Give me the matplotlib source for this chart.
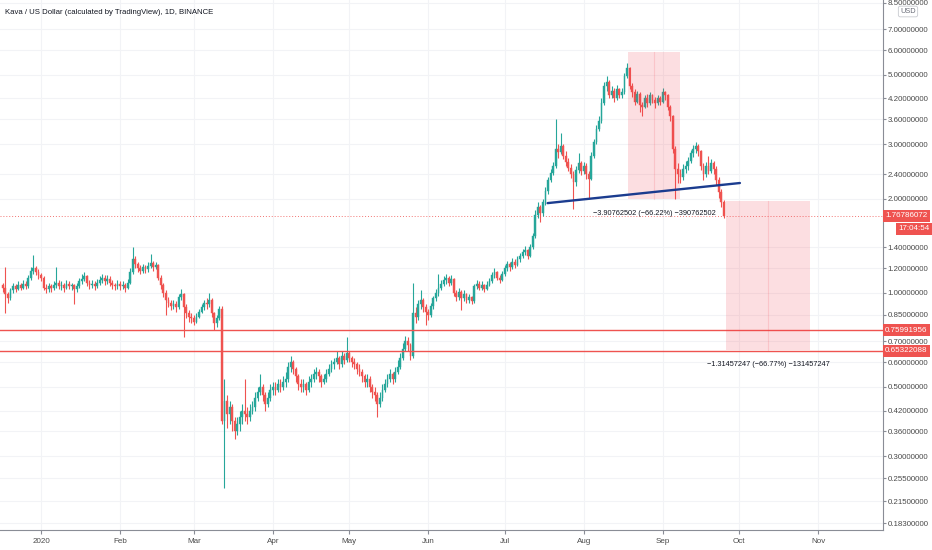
import numpy as np
import pandas as pd
import matplotlib
matplotlib.use("Agg")
import matplotlib.pyplot as plt
import matplotlib.dates as mdates
import matplotlib.transforms as mtrans

plt.rcParams['font.family'] = ['Liberation Sans', 'DejaVu Sans']

# daily candles, KAVA/USD, 2019-12-17 .. 2020-09-25 (open = previous close)
START = "2019-12-17"
FIRST_OPEN = 1.06

close_dec = [1.04, 0.99, 0.96, 1.02, 1.05, 1.03, 1.06, 1.04, 1.07, 1.05, 1.12, 1.18, 1.20, 1.17, 1.14]
high_dec = [1.08, 1.21, 1.01, 1.04, 1.08, 1.07, 1.09, 1.08, 1.10, 1.09, 1.14, 1.21, 1.32, 1.22, 1.19]
low_dec = [1.01, 0.86, 0.93, 0.95, 1.00, 1.01, 1.02, 1.02, 1.03, 1.03, 1.04, 1.10, 1.15, 1.14, 1.11]

close_jan = [1.12, 1.04, 1.03, 1.05, 1.04, 1.06, 1.08, 1.05, 1.06, 1.04, 1.07, 1.05, 1.06, 1.03, 1.05, 1.09,
             1.11, 1.13, 1.08, 1.06, 1.07, 1.05, 1.08, 1.10, 1.12, 1.09, 1.11, 1.08, 1.06, 1.05, 1.07]
high_jan = [1.16, 1.13, 1.07, 1.08, 1.07, 1.09, 1.21, 1.10, 1.09, 1.08, 1.10, 1.09, 1.08, 1.07, 1.08, 1.12,
            1.15, 1.17, 1.14, 1.10, 1.10, 1.09, 1.11, 1.13, 1.15, 1.14, 1.14, 1.13, 1.10, 1.08, 1.10]
low_jan = [1.09, 1.02, 1.00, 1.01, 1.01, 1.02, 1.04, 1.03, 1.02, 1.01, 1.03, 1.03, 1.02, 0.92, 1.01, 1.04,
           1.07, 1.09, 1.05, 1.03, 1.04, 1.02, 1.04, 1.06, 1.08, 1.06, 1.07, 1.05, 1.03, 1.02, 1.03]

close_feb = [1.05, 1.06, 1.04, 1.08, 1.17, 1.28, 1.24, 1.20, 1.18, 1.21, 1.19, 1.22, 1.25, 1.21, 1.23,
             1.12, 1.06, 1.00, 0.95, 0.93, 0.91, 0.92, 0.90, 0.97, 0.99, 0.90, 0.86, 0.84, 0.83]
high_feb = [1.09, 1.09, 1.08, 1.11, 1.20, 1.40, 1.31, 1.26, 1.23, 1.24, 1.23, 1.26, 1.33, 1.27, 1.26,
            1.24, 1.14, 1.08, 1.02, 0.97, 0.95, 0.95, 0.94, 0.99, 1.03, 1.00, 0.92, 0.88, 0.86]
low_feb = [1.02, 1.03, 1.01, 1.03, 1.07, 1.15, 1.20, 1.17, 1.15, 1.16, 1.16, 1.17, 1.20, 1.18, 1.19,
           1.10, 1.03, 0.97, 0.85, 0.90, 0.88, 0.89, 0.87, 0.89, 0.95, 0.72, 0.83, 0.81, 0.80]

close_mar = [0.81, 0.84, 0.87, 0.90, 0.93, 0.92, 0.95, 0.86, 0.80, 0.83, 0.89, 0.39, 0.45, 0.41, 0.43, 0.39,
             0.36, 0.38, 0.40, 0.42, 0.41, 0.40, 0.42, 0.43, 0.46, 0.48, 0.50, 0.47, 0.44, 0.46, 0.49]
high_mar = [0.85, 0.86, 0.89, 0.92, 0.95, 0.96, 1.00, 0.96, 0.87, 0.85, 0.91, 0.91, 0.53, 0.47, 0.45, 0.44,
            0.40, 0.40, 0.42, 0.44, 0.53, 0.43, 0.44, 0.45, 0.48, 0.50, 0.55, 0.51, 0.48, 0.48, 0.51]
low_mar = [0.79, 0.80, 0.83, 0.86, 0.88, 0.89, 0.90, 0.84, 0.76, 0.78, 0.82, 0.38, 0.237, 0.37, 0.38, 0.36,
           0.34, 0.35, 0.36, 0.38, 0.39, 0.38, 0.39, 0.41, 0.42, 0.45, 0.47, 0.45, 0.42, 0.43, 0.45]

close_apr = [0.50, 0.49, 0.51, 0.50, 0.52, 0.53, 0.58, 0.60, 0.57, 0.54, 0.51, 0.50, 0.51, 0.49, 0.52,
             0.53, 0.55, 0.56, 0.54, 0.52, 0.53, 0.55, 0.57, 0.59, 0.60, 0.62, 0.59, 0.63, 0.61, 0.64]
high_apr = [0.52, 0.52, 0.53, 0.53, 0.54, 0.56, 0.60, 0.63, 0.61, 0.58, 0.55, 0.53, 0.53, 0.52, 0.54,
            0.55, 0.57, 0.58, 0.57, 0.55, 0.55, 0.57, 0.59, 0.61, 0.62, 0.65, 0.63, 0.65, 0.64, 0.72]
low_apr = [0.47, 0.47, 0.48, 0.48, 0.49, 0.50, 0.52, 0.56, 0.55, 0.52, 0.49, 0.48, 0.48, 0.47, 0.48,
           0.50, 0.52, 0.53, 0.52, 0.50, 0.51, 0.52, 0.54, 0.56, 0.57, 0.59, 0.57, 0.58, 0.59, 0.60]

close_may = [0.62, 0.60, 0.59, 0.57, 0.56, 0.54, 0.52, 0.53, 0.50, 0.48, 0.47, 0.44, 0.46, 0.49, 0.51, 0.53,
             0.55, 0.53, 0.56, 0.58, 0.62, 0.66, 0.70, 0.68, 0.63, 0.86, 0.84, 0.92, 0.95, 0.90, 0.87]
high_may = [0.65, 0.63, 0.62, 0.60, 0.59, 0.57, 0.55, 0.55, 0.54, 0.51, 0.50, 0.48, 0.48, 0.51, 0.53, 0.55,
            0.57, 0.56, 0.58, 0.61, 0.64, 0.69, 0.73, 0.72, 0.69, 1.08, 0.90, 0.95, 1.02, 0.96, 0.92]
low_may = [0.60, 0.58, 0.57, 0.55, 0.54, 0.52, 0.50, 0.50, 0.48, 0.46, 0.45, 0.40, 0.43, 0.45, 0.48, 0.50,
           0.52, 0.51, 0.52, 0.55, 0.57, 0.61, 0.65, 0.65, 0.61, 0.62, 0.80, 0.82, 0.89, 0.87, 0.79]

close_jun = [0.85, 0.91, 0.96, 1.00, 1.04, 1.07, 1.10, 1.12, 1.08, 1.11, 1.00, 0.97, 1.01, 0.96, 0.99,
             0.95, 0.97, 0.94, 1.05, 1.07, 1.04, 1.06, 1.03, 1.06, 1.09, 1.14, 1.17, 1.12, 1.10, 1.15]
high_jun = [0.89, 0.93, 0.98, 1.03, 1.15, 1.10, 1.13, 1.15, 1.13, 1.14, 1.12, 1.02, 1.04, 1.02, 1.02,
            1.00, 0.99, 0.98, 1.07, 1.10, 1.09, 1.09, 1.07, 1.09, 1.12, 1.17, 1.20, 1.18, 1.14, 1.18]
low_jun = [0.82, 0.84, 0.89, 0.94, 0.98, 1.02, 1.05, 1.07, 1.05, 1.06, 0.98, 0.94, 0.95, 0.88, 0.94,
           0.93, 0.93, 0.92, 0.93, 1.03, 1.02, 1.02, 1.01, 1.02, 1.05, 1.08, 1.12, 1.10, 1.08, 1.09]

close_jul = [1.20, 1.24, 1.21, 1.26, 1.23, 1.28, 1.31, 1.35, 1.37, 1.31, 1.40, 1.52, 1.78, 1.88, 1.80, 1.95,
             2.12, 2.30, 2.42, 2.55, 2.90, 2.82, 2.95, 2.75, 2.62, 2.52, 2.40, 2.27, 2.48, 2.60, 2.45]
high_jul = [1.23, 1.27, 1.26, 1.29, 1.28, 1.31, 1.34, 1.38, 1.41, 1.38, 1.43, 1.56, 1.84, 1.95, 1.92, 2.00,
            2.18, 2.36, 2.50, 2.62, 3.60, 3.00, 3.25, 3.00, 2.85, 2.70, 2.58, 2.46, 2.55, 2.80, 2.65]
low_jul = [1.13, 1.18, 1.18, 1.19, 1.20, 1.22, 1.26, 1.29, 1.32, 1.28, 1.30, 1.38, 1.50, 1.74, 1.69, 1.77,
           1.92, 2.08, 2.26, 2.38, 2.52, 2.70, 2.78, 2.68, 2.55, 2.45, 2.33, 1.86, 2.20, 2.42, 2.38]

close_aug = [2.55, 2.40, 2.32, 2.75, 3.05, 3.35, 3.55, 4.05, 4.60, 4.75, 4.30, 4.45, 4.20, 4.50, 4.30, 4.40,
             4.95, 5.25, 4.60, 4.40, 4.10, 4.35, 4.00, 3.95, 4.20, 4.05, 4.30, 4.15, 4.05, 4.20, 4.10]
high_aug = [2.62, 2.60, 2.45, 2.82, 3.12, 3.45, 3.70, 4.20, 4.75, 4.95, 4.80, 4.60, 4.55, 4.65, 4.55, 4.55,
            5.05, 5.45, 5.30, 4.70, 4.50, 4.45, 4.40, 4.10, 4.30, 4.35, 4.40, 4.35, 4.25, 4.30, 4.28]
low_aug = [2.40, 2.32, 2.00, 2.30, 2.70, 3.00, 3.30, 3.50, 4.00, 4.45, 4.20, 4.20, 4.10, 4.15, 4.20, 4.22,
           4.35, 4.90, 4.50, 4.25, 4.00, 4.05, 3.80, 3.70, 3.90, 3.95, 4.00, 4.05, 3.90, 4.00, 4.00]

close_sep = [4.40, 4.30, 3.95, 3.70, 2.90, 2.50, 2.40, 2.35, 2.50, 2.55, 2.65, 2.80, 2.90, 2.95, 2.85,
             2.55, 2.40, 2.55, 2.45, 2.60, 2.50, 2.30, 2.10, 1.95, 1.76786072]
high_sep = [4.55, 4.45, 4.35, 4.00, 3.72, 2.95, 2.60, 2.50, 2.58, 2.65, 2.72, 2.88, 2.98, 3.05, 3.00,
            2.88, 2.60, 2.62, 2.75, 2.68, 2.65, 2.55, 2.35, 2.15, 1.98]
low_sep = [4.05, 4.15, 3.85, 3.55, 2.80, 2.00, 2.25, 2.25, 2.30, 2.42, 2.48, 2.60, 2.72, 2.80, 2.75,
           2.48, 2.30, 2.35, 2.40, 2.42, 2.40, 2.22, 2.02, 1.88, 1.74]

price_ticks = [0.183, 0.215, 0.255, 0.30, 0.36, 0.42, 0.50, 0.60, 0.70, 0.85, 1.0, 1.2, 1.4,
               2.0, 2.4, 3.0, 3.6, 4.2, 5.0, 6.0, 7.0, 8.5]
month_ticks = ["2020-01-01", "2020-02-01", "2020-03-01", "2020-04-01", "2020-05-01", "2020-06-01",
               "2020-07-01", "2020-08-01", "2020-09-01", "2020-10-01", "2020-11-01"]
month_labels = ["2020", "Feb", "Mar", "Apr", "May", "Jun", "Jul", "Aug", "Sep", "Oct", "Nov"]

last_price = 1.76786072
levels = [0.75991956, 0.65322088]
# price range drawings: (start, end, top, bottom, label)
ranges = [("2020-08-18 12:00", "2020-09-07 20:00", 5.90087, 1.99325,
           "\u22123.90762502 (\u221266.22%) \u2212390762502"),
          ("2020-09-26 00:00", "2020-10-29 00:00", 1.96891, 0.65434,
           "\u22121.31457247 (\u221266.77%) \u2212131457247")]
trend = (["2020-07-17 20:00", "2020-10-01 08:00"], [1.94, 2.25])

UP = "#26a69a"
DOWN = "#ef5350"
GRID = "#f2f3f6"
AXIS = "#8a8d96"
TXT = "#4a4a4a"

close = np.array(close_dec + close_jan + close_feb + close_mar + close_apr + close_may +
                 close_jun + close_jul + close_aug + close_sep)
high = np.array(high_dec + high_jan + high_feb + high_mar + high_apr + high_may +
                high_jun + high_jul + high_aug + high_sep)
low = np.array(low_dec + low_jan + low_feb + low_mar + low_apr + low_may +
               low_jun + low_jul + low_aug + low_sep)
opn = np.concatenate([[FIRST_OPEN], close[:-1]])
dates = mdates.date2num(pd.date_range(START, periods=len(close), freq="D"))

fig = plt.figure(figsize=(9.32, 5.5), dpi=100)
ax = fig.add_axes([0, 20 / 550, 883 / 932, 530 / 550])
ax.set_yscale("log")

up = close >= opn
col = np.where(up, UP, DOWN)
ax.vlines(dates, low, high, colors=col, lw=0.8, zorder=3)
ax.bar(dates, np.abs(close - opn), bottom=np.minimum(opn, close), width=0.7,
       color=col, edgecolor=col, lw=0.3, zorder=4)

# horizontal levels and last price
for lv in levels:
    ax.axhline(lv, color=DOWN, lw=1.0, zorder=5)
ax.axhline(last_price, color=DOWN, lw=0.7, ls=(0, (1, 2)), alpha=0.8, zorder=2)

# price range boxes
for s, e, top, bot, lab in ranges:
    x0, x1 = mdates.datestr2num(s), mdates.datestr2num(e)
    ax.fill_between([x0, x1], bot, top, color="#f23645", alpha=0.16, lw=0, zorder=6)
    ax.plot([(x0 + x1) / 2] * 2, [bot, top], color="#f23645", alpha=0.15, lw=0.8, zorder=6)
    ax.annotate(lab, xy=((x0 + x1) / 2, bot), xytext=(0, -10), textcoords="offset points",
                ha="center", va="center", fontsize=5.3, color="#131722", zorder=7)

ax.plot(mdates.datestr2num(trend[0]), trend[1], color="#1b3c8f", lw=1.7, zorder=7,
        solid_capstyle="round")

# axes
ax.set_xlim(mdates.datestr2num("2020-01-01") - 16.1, mdates.datestr2num("2020-01-01") + 330.5)
ax.set_ylim(0.174, 8.68)
ax.yaxis.tick_right()
ax.set_yticks(price_ticks)
ax.set_yticklabels(["%.8f" % t for t in price_ticks])
ax.yaxis.set_minor_locator(matplotlib.ticker.NullLocator())
ax.set_xticks(mdates.datestr2num(month_ticks))
ax.set_xticklabels(month_labels)
ax.tick_params(axis="y", which="major", labelsize=5.7, colors=AXIS, labelcolor=TXT, length=2.5, pad=1)
ax.tick_params(axis="x", labelsize=5.8, colors=AXIS, labelcolor=TXT, length=3, pad=3)
ax.grid(True, color=GRID, lw=0.8, zorder=0)
ax.set_axisbelow(True)
for side in ["top", "left"]:
    ax.spines[side].set_visible(False)
for side in ["right", "bottom"]:
    ax.spines[side].set_color(AXIS)
    ax.spines[side].set_linewidth(0.8)

# price badges on the axis
btr = mtrans.blended_transform_factory(ax.transAxes, ax.transData)
btr = mtrans.offset_copy(btr, fig=fig, x=2, units="dots")
for val in [last_price] + levels:
    ax.text(1.0, val, "%.8f" % val, transform=btr, ha="left", va="center", fontsize=5.8,
            color="white", clip_on=False, zorder=10,
            bbox=dict(boxstyle="square,pad=0.3", fc=DOWN, ec="none"))
ftr = mtrans.blended_transform_factory(fig.transFigure, ax.transData)
ftr = mtrans.offset_copy(ftr, fig=fig, y=-13, units="dots")
ax.text(0.997, last_price, "17:04:54", transform=ftr, ha="right", va="center", fontsize=5.8,
        color="white", clip_on=False, zorder=10,
        bbox=dict(boxstyle="square,pad=0.3", fc=DOWN, ec="none"))

fig.text(908 / 932, 1 - 11.5 / 550, "USD", ha="center", va="center", fontsize=5.3, color="#6a6d78",
         bbox=dict(boxstyle="round,pad=0.25", fc="white", ec="#c8cad0", lw=0.6))
fig.text(5 / 932, 1 - 12 / 550, "Kava / US Dollar (calculated by TradingView), 1D, BINANCE",
         ha="left", va="center", fontsize=5.6, color="#131722")

fig.savefig("out.png", dpi=100, facecolor="white")
